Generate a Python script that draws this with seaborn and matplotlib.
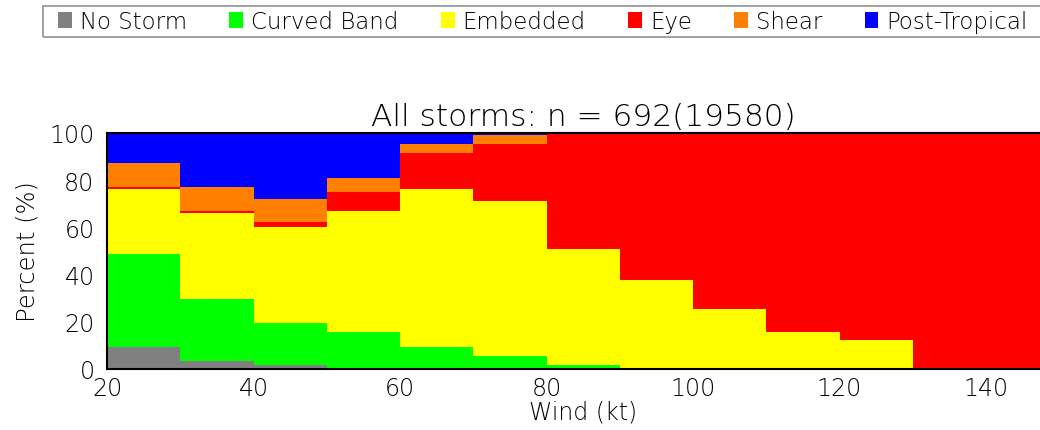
import numpy as np
import pandas as pd
import matplotlib
matplotlib.use("Agg")
import matplotlib.pyplot as plt
from matplotlib.patches import Patch, Rectangle
import seaborn as sns

# Wind-speed bins (left edges, kt) and the share of each storm type per bin (%)
wind_bins = [20, 30, 40, 50, 60, 70, 80, 90, 100, 110, 120, 130, 140]
categories = ["No Storm", "Curved Band", "Embedded", "Eye", "Shear", "Post-Tropical"]
colors = ["#808080", "#00ff00", "#ffff00", "#ff0000", "#ff7f00", "#0000ff"]

no_storm      = [9.5, 3.4, 1.6, 0.3, 0.2, 0.1, 0.1, 0.1, 0.1, 0.4, 0.0, 0.0, 0.0]
curved_band   = [39.4, 26.4, 18.0, 15.3, 9.3, 5.3, 1.5, 0.3, 0.1, 0.0, 0.0, 0.0, 0.0]
embedded      = [27.3, 36.5, 40.5, 51.5, 66.7, 65.8, 49.3, 37.3, 25.3, 15.2, 12.5, 0.0, 0.0]
eye           = [0.9, 0.8, 2.0, 8.1, 15.3, 24.1, 48.6, 62.0, 74.2, 84.1, 87.5, 100.0, 100.0]
shear         = [10.1, 10.2, 10.1, 5.9, 3.8, 4.0, 0.5, 0.3, 0.3, 0.3, 0.0, 0.0, 0.0]
post_tropical = [12.8, 22.7, 27.8, 18.9, 4.7, 0.7, 0.0, 0.0, 0.0, 0.0, 0.0, 0.0, 0.0]

title = "All storms: n = 692(19580)"
xticks = [20, 40, 60, 80, 100, 120, 140]
yticks = [0, 20, 40, 60, 80, 100]

series = [no_storm, curved_band, embedded, eye, shear, post_tropical]
rows = []
for cat, vals in zip(categories, series):
    for w, v in zip(wind_bins, vals):
        rows.append({"wind": w + 5, "category": cat, "percent": v})
df = pd.DataFrame(rows)

sns.set_theme(style="white")
plt.rcParams["font.family"] = ["DejaVu Sans"]
plt.rcParams["font.weight"] = "light"
plt.rcParams["text.color"] = "black"
plt.rcParams["axes.labelcolor"] = "black"
plt.rcParams["axes.titleweight"] = "light"
plt.rcParams["axes.labelweight"] = "light"

fig = plt.figure(figsize=(10.4, 4.31), dpi=100)
ax = fig.add_axes([107 / 1040, 1 - 370 / 431, 130 * 7.325 / 1040, 236 / 431])

# seaborn stacks the first hue level on top, so feed the order reversed
palette = dict(zip(categories, colors))
sns.histplot(
    data=df, x="wind", weights="percent", hue="category",
    hue_order=categories[::-1], palette=palette,
    binwidth=10, binrange=(20, 150), multiple="stack",
    alpha=1, linewidth=0, legend=False, ax=ax,
)

ax.set_xlim(20, 150)
ax.set_ylim(0, 100)
ax.set_xticks(xticks)
ax.set_yticks(yticks)
ax.tick_params(axis="both", length=0, labelsize=17, colors="black")
ax.tick_params(axis="x", pad=5)
ax.tick_params(axis="y", pad=9)
ax.set_xlabel("Wind (kt)", fontsize=17, labelpad=0)
ax.set_ylabel("Percent (%)", fontsize=17.5, labelpad=7)
ax.set_title(title, fontsize=22.5, pad=6, color="black")
for s in ax.spines.values():
    s.set_visible(True)
    s.set_color("black")
    s.set_linewidth(1.5)

# legend row across the top, inside a plain grey frame
handles = [Patch(facecolor=c, edgecolor="none", label=l) for c, l in zip(colors, categories)]
leg = fig.legend(
    handles=handles, loc="upper left", bbox_to_anchor=(58 / 1040, 1 - 11 / 431),
    ncol=6, frameon=False, fontsize=16.5,
    handlelength=0.6, handleheight=0.75, handletextpad=0.35, columnspacing=1.85,
    borderpad=0.0, borderaxespad=0,
)
fig.patches.append(Rectangle((43 / 1040, 1 - 38 / 431), 1.1, 31 / 431,
                             transform=fig.transFigure, fill=False,
                             edgecolor="#909090", linewidth=1.2))

fig.savefig("out.png", dpi=100)
